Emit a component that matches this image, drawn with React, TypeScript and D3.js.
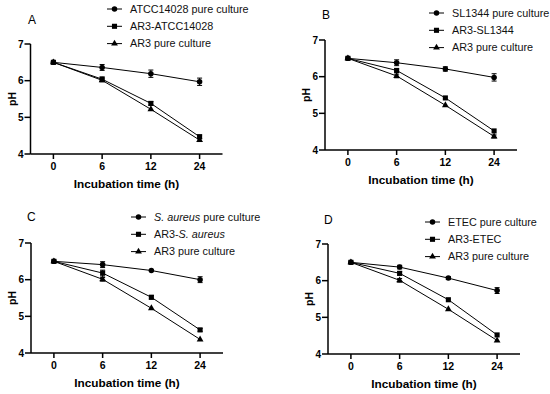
import * as d3 from 'd3'

const hours = ['0', '6', '12', '24']
const yTicks = [4, 5, 6, 7]

// panel A
const pureA = [6.5, 6.36, 6.19, 5.97]
const pureAErr = [0.02, 0.08, 0.1, 0.1]
const mixA = [6.5, 6.04, 5.38, 4.47]
const mixAErr = [0.02, 0.06, 0.05, 0.05]
const ar3A = [6.5, 6.01, 5.22, 4.38]
const ar3AErr = [0.02, 0.04, 0.03, 0.04]

// panel B
const pureB = [6.5, 6.38, 6.21, 5.98]
const pureBErr = [0.02, 0.08, 0.06, 0.1]
const mixB = [6.5, 6.17, 5.42, 4.52]
const mixBErr = [0.02, 0.04, 0.03, 0.03]
const ar3B = [6.5, 6.02, 5.22, 4.37]
const ar3BErr = [0.02, 0.05, 0.03, 0.04]

// panel C
const pureC = [6.5, 6.41, 6.25, 6.0]
const pureCErr = [0.02, 0.08, 0.03, 0.08]
const mixC = [6.5, 6.18, 5.52, 4.63]
const mixCErr = [0.02, 0.08, 0.05, 0.04]
const ar3C = [6.5, 6.01, 5.22, 4.37]
const ar3CErr = [0.02, 0.05, 0.02, 0.02]

// panel D
const pureD = [6.5, 6.37, 6.07, 5.73]
const pureDErr = [0.02, 0.05, 0.04, 0.08]
const mixD = [6.5, 6.2, 5.48, 4.52]
const mixDErr = [0.02, 0.05, 0.03, 0.03]
const ar3D = [6.5, 6.01, 5.22, 4.37]
const ar3DErr = [0.02, 0.05, 0.03, 0.03]

const FONT = '"Liberation Sans", Arial, sans-serif'
const W = 192
const H = 110

const shapes = [d3.symbolCircle, d3.symbolSquare, d3.symbolTriangle]
const sizes = [24, 26, 20]

type Series = { values: number[]; err: number[] }
type Panel = {
  letter: string
  ox: number
  oy: number
  labelX: number
  labelY: number
  legX: number
  legY: number
  legend: any[]
  series: Series[]
}

const italic = (s: string) => <tspan fontStyle="italic">{s}</tspan>

const panels: Panel[] = [
  {
    letter: 'A', ox: 30.5, oy: 44, labelX: 28, labelY: 24, legX: 107, legY: 9,
    legend: ['ATCC14028 pure culture', 'AR3-ATCC14028', 'AR3 pure culture'],
    series: [{ values: pureA, err: pureAErr }, { values: mixA, err: mixAErr }, { values: ar3A, err: ar3AErr }]
  },
  {
    letter: 'B', ox: 325, oy: 40, labelX: 322, labelY: 19, legX: 429, legY: 13,
    legend: ['SL1344 pure culture', 'AR3-SL1344', 'AR3 pure culture'],
    series: [{ values: pureB, err: pureBErr }, { values: mixB, err: mixBErr }, { values: ar3B, err: ar3BErr }]
  },
  {
    letter: 'C', ox: 31, oy: 243, labelX: 27, labelY: 221, legX: 131, legY: 217,
    legend: [
      <>{italic('S. aureus')} pure culture</>,
      <>AR3-{italic('S. aureus')}</>,
      'AR3 pure culture'
    ],
    series: [{ values: pureC, err: pureCErr }, { values: mixC, err: mixCErr }, { values: ar3C, err: ar3CErr }]
  },
  {
    letter: 'D', ox: 328, oy: 244, labelX: 324, labelY: 224, legX: 425, legY: 222,
    legend: ['ETEC pure culture', 'AR3-ETEC', 'AR3 pure culture'],
    series: [{ values: pureD, err: pureDErr }, { values: mixD, err: mixDErr }, { values: ar3D, err: ar3DErr }]
  }
]

const x = d3.scalePoint<string>().domain(hours).range([0, W]).padding(0.47)
const y = d3.scaleLinear().domain([4, 7]).range([H, 0])

function ChartPanel({ p }: { p: Panel }) {
  const line = d3.line<number>()
    .x((_, i) => x(hours[i])!)
    .y(d => y(d))
  return (
    <g>
      <text x={p.labelX} y={p.labelY} fontSize={12} fontFamily={FONT}>{p.letter}</text>
      <g transform={`translate(${p.ox},${p.oy})`}>
        {/* axes */}
        <line x1={0} x2={0} y1={y(7)} y2={y(4)} stroke="#000" strokeWidth={1.5} />
        <line x1={0} x2={W} y1={H} y2={H} stroke="#000" strokeWidth={1.5} />
        {yTicks.map(t => (
          <g key={t}>
            <line x1={-6} x2={0} y1={y(t)} y2={y(t)} stroke="#000" strokeWidth={1.5} />
            <text x={-7} y={y(t)} dy="0.35em" textAnchor="end" fontSize={10} fontWeight="bold" fontFamily={FONT}>{t}</text>
          </g>
        ))}
        {hours.map(h => (
          <g key={h}>
            <line x1={x(h)} x2={x(h)} y1={H} y2={H + 5} stroke="#000" strokeWidth={1.5} />
            <text x={x(h)} y={H + 16} textAnchor="middle" fontSize={10.5} fontWeight="bold" fontFamily={FONT}>{h}</text>
          </g>
        ))}
        <text transform={`translate(-15,${H / 2}) rotate(-90)`} textAnchor="middle" fontSize={10.5} fontWeight="bold" fontFamily={FONT}>pH</text>
        <text x={W / 2} y={H + 34} textAnchor="middle" fontSize={11.8} fontWeight="bold" fontFamily={FONT}>Incubation time (h)</text>

        {/* series */}
        {p.series.map((s, si) => (
          <g key={si}>
            <path d={line(s.values)!} fill="none" stroke="#000" strokeWidth={1} />
            {s.values.map((v, i) => {
              const cx = x(hours[i])!
              const e = s.err[i]
              return (
                <g key={i}>
                  {e > 0.03 && (
                    <g stroke="#000" strokeWidth={1}>
                      <line x1={cx} x2={cx} y1={y(v + e)} y2={y(v - e)} />
                      <line x1={cx - 2.5} x2={cx + 2.5} y1={y(v + e)} y2={y(v + e)} />
                      <line x1={cx - 2.5} x2={cx + 2.5} y1={y(v - e)} y2={y(v - e)} />
                    </g>
                  )}
                  <path transform={`translate(${cx},${y(v)})`} d={d3.symbol().type(shapes[si]).size(sizes[si])()!} fill="#000" />
                </g>
              )
            })}
          </g>
        ))}
      </g>

      {/* legend */}
      {p.legend.map((lab, i) => {
        const ly = p.legY + i * 17.3
        return (
          <g key={i}>
            <line x1={p.legX} x2={p.legX + 15} y1={ly} y2={ly} stroke="#000" strokeWidth={1} />
            <path transform={`translate(${p.legX + 7.5},${ly})`} d={d3.symbol().type(shapes[i]).size(sizes[i])()!} fill="#000" />
            <text x={p.legX + 23} y={ly} dy="0.35em" fontSize={10.8} fontFamily={FONT} fill="#111">{lab}</text>
          </g>
        )
      })}
    </g>
  )
}

export default function App() {
  return (
    <svg width={550} height={394} style={{ position: 'absolute', left: 0, top: 0, background: '#fff' }}>
      <rect width={550} height={394} fill="#fff" />
      {panels.map(p => <ChartPanel key={p.letter} p={p} />)}
    </svg>
  )
}
